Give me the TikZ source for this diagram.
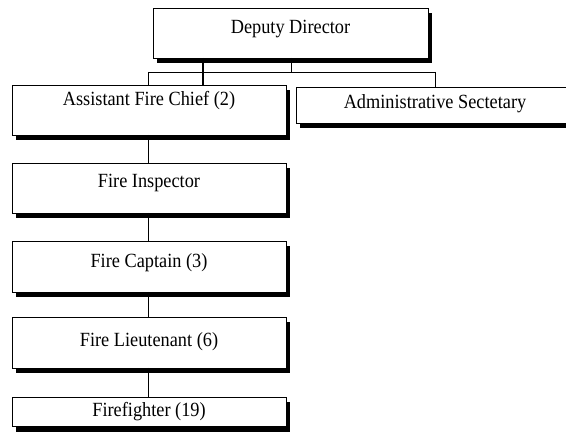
\documentclass[tikz,border=0pt]{standalone}
\usepackage{graphicx}
\usepackage{fontspec}
\setmainfont{Liberation Serif}
% slightly tall lettering for the box titles
\newcommand\talltitle[1]{\scalebox{1}[1.1]{#1}}
\begin{document}
\begin{tikzpicture}[x=1pt,y=-1pt,
  orgbox/.style={rectangle, draw=black, line width=0.8pt, fill=white,
    inner sep=0pt, outer sep=0pt, anchor=north west,
    preaction={fill=black, transform canvas={shift={(4pt,-5.5pt)}}},
    preaction={draw=white, line width=2.4pt}},
  orgtext/.style={anchor=base, inner sep=0pt, font=\fontsize{18.3}{20}\selectfont},
  link/.style={draw=black, line width=0.8pt},
  trunk/.style={draw=black, line width=2.8pt}]
\useasboundingbox (0,0) rectangle (566,433);
\clip (0,0) rectangle (566,433);

% boxes
\node[orgbox, minimum width=275pt, minimum height=50pt] (dd)  at (153,8)   {};
\node[orgbox, minimum width=274pt, minimum height=50pt] (afc) at (12,85)   {};
\node[orgbox, minimum width=278pt, minimum height=36pt] (adm) at (296,87)  {};
\node[orgbox, minimum width=274pt, minimum height=50pt] (fi)  at (12,163)  {};
\node[orgbox, minimum width=274pt, minimum height=51pt] (fc)  at (12,241)  {};
\node[orgbox, minimum width=274pt, minimum height=51pt] (fl)  at (12,317)  {};
\node[orgbox, minimum width=274pt, minimum height=29pt] (ff)  at (12,397)  {};

% titles
\node[orgtext] (ddt)  at (dd.north  |- 0,34)  {\talltitle{Deputy Director}};
\node[orgtext] (afct) at (afc.north |- 0,106) {\talltitle{Assistant Fire Chief (2)}};
\node[orgtext] (admt) at (adm.north |- 0,109) {\talltitle{Administrative Sectetary}};
\node[orgtext] (fit)  at (fi.north  |- 0,188) {\talltitle{Fire Inspector}};
\node[orgtext] (fct)  at (fc.north  |- 0,268) {\talltitle{Fire Captain (3)}};
\node[orgtext] (flt)  at (fl.north  |- 0,347) {\talltitle{Fire Lieutenant (6)}};
\node[orgtext] (fft)  at (ff.north  |- 0,417) {\talltitle{Firefighter (19)}};

% connectors
\coordinate (busL) at (148,72);
\coordinate (busM) at (291,72);
\coordinate (busR) at (435,72);
\coordinate (trunkx) at (203,0);
\coordinate (colx) at (148,0);

\draw[link] (busL) -- (busR);
\draw[link] (busM |- dd.south) -- (busM);
\draw[link] (busL) -- (busL |- afc.north);
\draw[link] (busR) -- (busR |- adm.north);
\draw[trunk] (trunkx |- dd.south) -- (trunkx |- afc.north);

\draw[link] (colx |- afc.south) -- (colx |- fi.north);
\draw[link] (colx |- fi.south)  -- (colx |- fc.north);
\draw[link] (colx |- fc.south)  -- (colx |- fl.north);
\draw[link] (colx |- fl.south)  -- (colx |- ff.north);
\end{tikzpicture}
\end{document}
